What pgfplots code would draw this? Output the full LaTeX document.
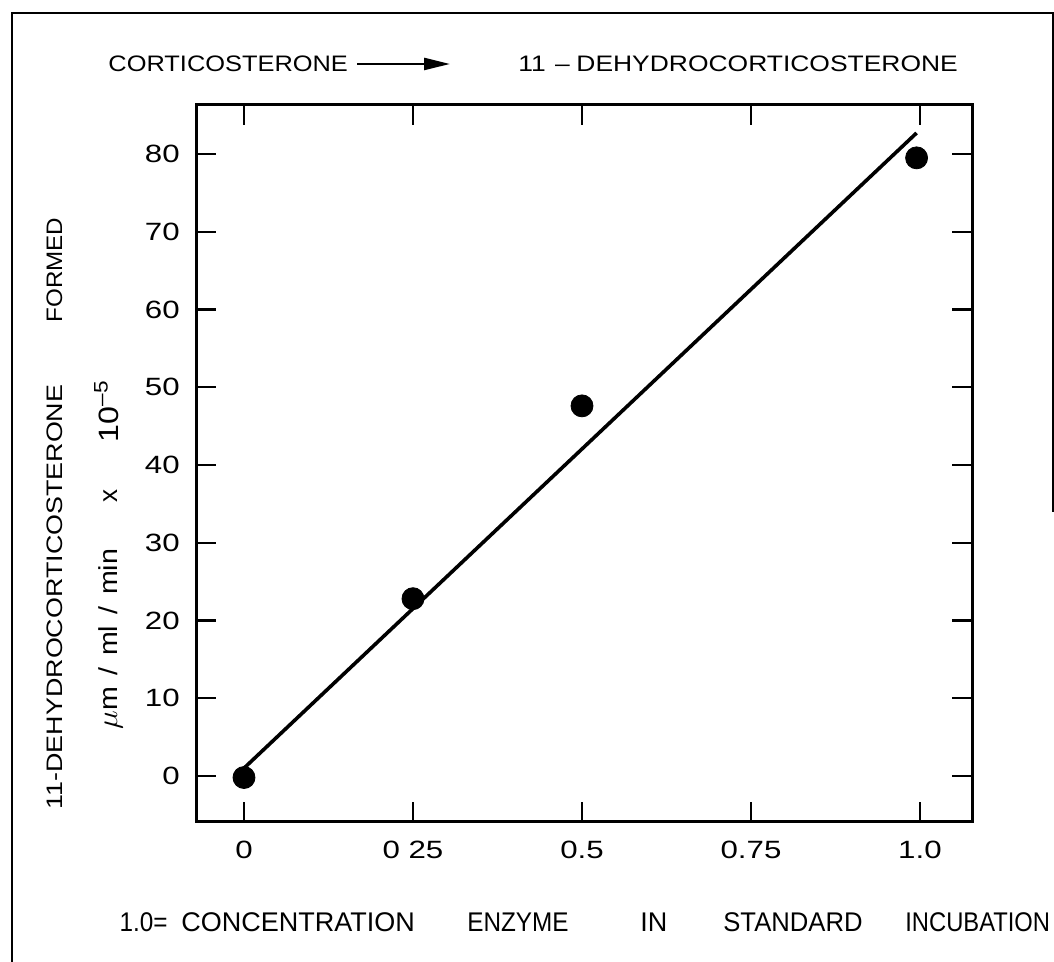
\documentclass[border=0pt]{standalone}
\usepackage{fontspec}
\setmainfont{Liberation Sans}
\usepackage{pgfplots}
\pgfplotsset{compat=1.18}
\usetikzlibrary{arrows.meta}
\begin{document}
\begin{tikzpicture}[x=0.5pt,y=0.5pt]
\useasboundingbox (0,0) rectangle (1054,962);
\fill[white] (0,0) rectangle (1054,962);
\draw[line width=0.6pt] (12,0) -- (12,949) -- (1053,949) -- (1053,450);
\begin{axis}[
  at={(98pt,70pt)}, anchor=south west,
  scale only axis, width=388pt, height=358.5pt,
  xmin=-0.071, xmax=1.077, ymin=-5.92, ymax=86.3,
  clip=false,
  axis line style={line width=1.5pt},
  tick style={line width=1.2pt, black},
  major tick length=10pt,
  tick align=inside,
  xtick={0,0.25,0.5,0.75,1},
  xticklabels={0,0 25,0.5,0.75,1.0},
  ytick={0,10,...,80},
  /pgf/number format/assume math mode=true,
  tick label style={font=\fontsize{12.5}{14}\selectfont, xscale=1.25},
  xticklabel style={yshift=-6pt},
  yticklabel style={xshift=-3pt},
]
\addplot[line width=1.8pt, no marks] coordinates {(0,1.0) (0.995,82.7)};
\addplot[only marks, mark=*, mark size=5.5pt, black] coordinates {(0,-0.2) (0.25,22.8) (0.5,47.6) (0.995,79.5)};
\end{axis}
% title
\node[anchor=west, xscale=1.134, inner sep=0pt, font=\fontsize{11.2}{13}\selectfont] at (108,898) {CORTICOSTERONE};
\draw[line width=1.2pt, -{Triangle[length=13pt,width=6pt]}] (357,898) -- (450,898);
\node[anchor=west, xscale=1.18, inner sep=0pt, font=\fontsize{11.2}{13}\selectfont] at (518,898) {11\hspace{0.35em}--\hspace{0.25em}DEHYDROCORTICOSTERONE};
% x label
\node[anchor=east, inner sep=0pt, xscale=0.9, font=\fontsize{13.5}{15}\selectfont] at (168,40) {1.0=};
\node[anchor=west, inner sep=0pt, font=\fontsize{13.5}{15}\selectfont] at (181,40) {CONCENTRATION};
\node[anchor=west, inner sep=0pt, xscale=0.9, font=\fontsize{13.5}{15}\selectfont] at (467,40) {ENZYME};
\node[anchor=west, inner sep=0pt, font=\fontsize{13.5}{15}\selectfont] at (640,40) {IN};
\node[anchor=west, inner sep=0pt, xscale=0.95, font=\fontsize{13.5}{15}\selectfont] at (723,40) {STANDARD};
\node[anchor=west, inner sep=0pt, xscale=0.88, font=\fontsize{13.5}{15}\selectfont] at (905,40) {INCUBATION};
% y label
\node[rotate=90, xscale=1.2, anchor=base, inner sep=0pt, font=\fontsize{11.2}{13}\selectfont] at (62,365) {11-DEHYDROCORTICOSTERONE};
\node[rotate=90, xscale=1.08, anchor=base, inner sep=0pt, font=\fontsize{11.2}{13}\selectfont] at (62,692) {FORMED};
\node[rotate=90, xscale=1.1, anchor=base, inner sep=0pt, font=\fontsize{13}{15}\selectfont] at (117,323) {{\Large$\mu$}m\hspace{0.4em}/\hspace{0.4em}ml\hspace{0.4em}/\hspace{0.4em}min};
\node[rotate=90, anchor=base, inner sep=0pt, font=\fontsize{13}{15}\selectfont] at (117,466) {x};
\node[rotate=90, xscale=1.15, anchor=base, inner sep=0pt, font=\fontsize{14}{16}\selectfont] at (118,551) {10\textsuperscript{--5}};
\end{tikzpicture}
\end{document}
